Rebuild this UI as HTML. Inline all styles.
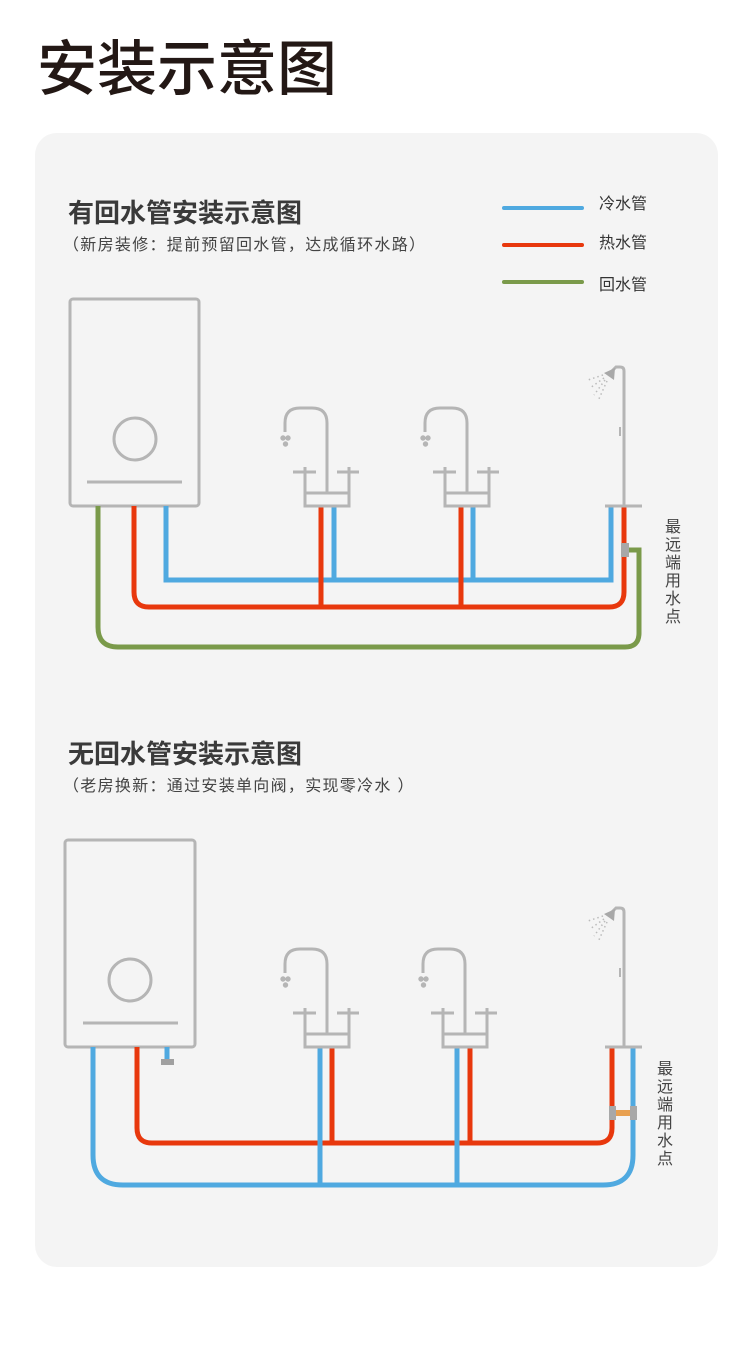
<!DOCTYPE html>
<html><head><meta charset="utf-8"><style>
body{margin:0;background:#fff;}
svg{display:block}
.t{font-family:"Liberation Sans","Noto Sans CJK SC",sans-serif;}
</style></head><body>
<svg width="750" height="1357" viewBox="0 0 750 1357" xmlns="http://www.w3.org/2000/svg" class="t">
<text x="37" y="90" font-size="60" fill="#231815" font-family="Liberation Sans, Noto Sans CJK SC, sans-serif" font-weight="500">安装示意图</text>
<rect x="35" y="133" width="683" height="1134" rx="22" fill="#f4f4f4"/>

<!-- Top section -->
<text x="68" y="222" font-size="26" font-weight="bold" fill="#3a3a3a" font-family="Liberation Sans, Noto Sans CJK SC, sans-serif">有回水管安装示意图</text>
<text x="63" y="250" font-size="16" fill="#444" letter-spacing="1.3" font-family="Liberation Sans, Noto Sans CJK SC, sans-serif">（新房装修：提前预留回水管，达成循环水路）</text>
<g stroke-width="4" stroke-linecap="round">
<line x1="504" y1="208" x2="582" y2="208" stroke="#4fa9e0"/>
<line x1="504" y1="245" x2="582" y2="245" stroke="#e8380d"/>
<line x1="504" y1="282" x2="582" y2="282" stroke="#7a9a4a"/>
</g>
<g font-size="16" fill="#333" font-family="Liberation Sans, Noto Sans CJK SC, sans-serif">
<text x="599" y="209">冷水管</text><text x="599" y="248">热水管</text><text x="599" y="290">回水管</text>
</g>

<g fill="none" stroke="#b5b5b5" stroke-width="3">
<rect x="70" y="299" width="129" height="207" rx="3"/>
<circle cx="135" cy="439" r="21"/>
<line x1="87" y1="482" x2="182" y2="482"/>
</g>

<!-- pipes top -->
<g fill="none" stroke-width="5">
<path d="M98 506 V627 Q98 647 118 647 H625 Q639 647 639 633 V550 H626" stroke="#7a9a4a"/>
<path d="M134 506 V592 Q134 607 149 607 H609 Q624 607 624 592 V506" stroke="#e8380d"/>
<path d="M166 506 V580 H611 V506" stroke="#4fa9e0"/>
<path d="M321 506 V607 M461 506 V607" stroke="#e8380d"/>
<path d="M334 506 V580 M473 506 V580" stroke="#4fa9e0"/>
</g>
<rect x="621" y="543" width="8" height="14" fill="#a8a8a8"/>

<defs>
<g id="sink" fill="none" stroke="#b5b5b5" stroke-width="3">
<rect x="305" y="493" width="44" height="13"/>
<path d="M305 493 V467 M349 493 V467 M293 472 H316 M337 472 H359"/>
<path d="M327 493 V423 Q327 408 312 408 H300 Q285 408 285 423 V432"/>
<circle cx="283" cy="438" r="1.2" fill="#b5b5b5"/><circle cx="288" cy="438" r="1.2" fill="#b5b5b5"/><circle cx="285.5" cy="444" r="1.2" fill="#b5b5b5"/>
</g>
<g id="shower">
<path d="M624 506 V371 Q624 367 620 367 H616 L611 372" fill="none" stroke="#b5b5b5" stroke-width="3"/>
<polygon points="604,373 615,368 614,380" fill="#a8a8a8"/>
<path d="M620 427 V436" stroke="#b5b5b5" stroke-width="2"/>
<line x1="605" y1="506" x2="642" y2="506" stroke="#b5b5b5" stroke-width="3"/>
<g stroke="#bbb" stroke-width="1.5" stroke-dasharray="1.5 3">
<line x1="603" y1="375" x2="588" y2="380"/><line x1="604" y1="378" x2="590" y2="388"/><line x1="605" y1="380" x2="594" y2="395"/><line x1="607" y1="381" x2="598" y2="401"/>
</g>
</g>
</defs>
<use href="#sink"/>
<use href="#sink" x="140"/>
<use href="#shower"/>
<text font-size="16" fill="#444" font-family="Liberation Sans, Noto Sans CJK SC, sans-serif">
<tspan x="665" y="532">最</tspan><tspan x="665" y="550">远</tspan><tspan x="665" y="568">端</tspan><tspan x="665" y="586">用</tspan><tspan x="665" y="604">水</tspan><tspan x="665" y="622">点</tspan></text>

<!-- Bottom section -->
<text x="68" y="763" font-size="26" font-weight="bold" fill="#3a3a3a" font-family="Liberation Sans, Noto Sans CJK SC, sans-serif">无回水管安装示意图</text>
<text x="63" y="791" font-size="16" fill="#444" letter-spacing="1.3" font-family="Liberation Sans, Noto Sans CJK SC, sans-serif">（老房换新：通过安装单向阀，实现零冷水 ）</text>

<g fill="none" stroke="#b5b5b5" stroke-width="3">
<rect x="65" y="840" width="130" height="207" rx="3"/>
<circle cx="130" cy="980" r="21"/>
<line x1="83" y1="1023" x2="178" y2="1023"/>
</g>
<g fill="none" stroke-width="5">
<path d="M93 1047 V1155 Q93 1185 123 1185 H603 Q633 1185 633 1155 V1047" stroke="#4fa9e0"/>
<path d="M137 1047 V1128 Q137 1143 152 1143 H597 Q612 1143 612 1128 V1047" stroke="#e8380d"/>
<path d="M320 1047 V1185 M457 1047 V1185 M167 1047 V1060" stroke="#4fa9e0"/>
<path d="M332 1047 V1143 M470 1047 V1143" stroke="#e8380d"/>
</g>
<rect x="161" y="1059" width="13" height="6" fill="#a0a0a0"/>
<rect x="609" y="1106" width="7" height="14" fill="#a8a8a8"/>
<rect x="630" y="1106" width="7" height="14" fill="#a8a8a8"/>
<rect x="616" y="1110" width="14" height="6" fill="#e8a050"/>
<use href="#sink" x="0" y="541"/>
<use href="#sink" x="138" y="541"/>
<use href="#shower" x="0" y="541"/>
<text font-size="16" fill="#444" font-family="Liberation Sans, Noto Sans CJK SC, sans-serif">
<tspan x="657" y="1074">最</tspan><tspan x="657" y="1092">远</tspan><tspan x="657" y="1110">端</tspan><tspan x="657" y="1128">用</tspan><tspan x="657" y="1146">水</tspan><tspan x="657" y="1164">点</tspan></text>
</svg>
</body></html>
